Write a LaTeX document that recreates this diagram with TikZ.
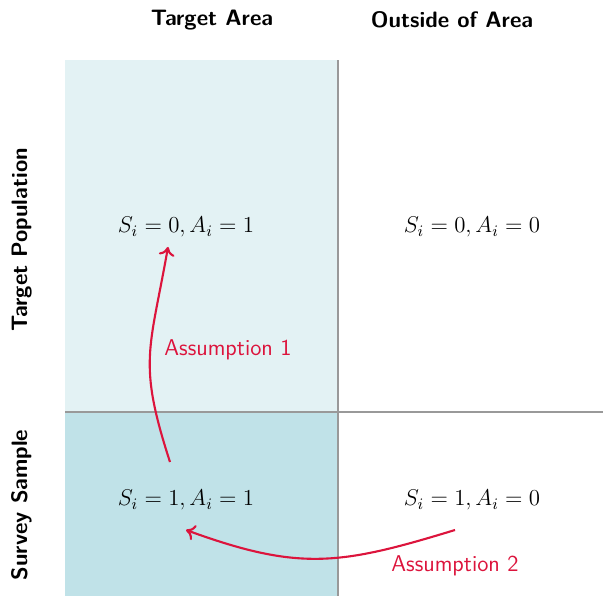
\RequirePackage{fix-cm}
\documentclass[tikz,border=0pt]{standalone}
\usepackage{tikz}
\usetikzlibrary{positioning,arrows.meta,calc}
\usepackage{xcolor}
\definecolor{areacol}{HTML}{E3F2F4}
\definecolor{samplecol}{HTML}{C0E2E8}
\definecolor{assumcol}{HTML}{DC143C}
\tikzset{
  header/.style={font=\fontsize{12.7}{15}\selectfont\bfseries\sffamily},
  assum/.style={font=\fontsize{13}{16}\selectfont\sffamily, text=assumcol},
  assumarrow/.style={-{To[length=5pt,width=9pt]}, line width=1.2pt, draw=assumcol},
  gridline/.style={draw=gray!80, line width=1pt}
}

\begin{document}
\begin{tikzpicture}[every node/.append style={font=\fontsize{13}{16}\selectfont}]
      \useasboundingbox (0,0) rectangle (12.06,11.92);
      % cells
      \fill[areacol]   (1.30,3.68) rectangle (6.76,10.72);
      \fill[samplecol] (1.30,0)    rectangle (6.76,3.68);
      \draw[gridline] (6.76,0) -- (6.76,10.72);
      \draw[gridline] (1.30,3.68) -- (12.06,3.68);
      % headers
      \node[header] (ta) at (4.24,11.52) {Target Area};
      \node[header] (oa) at (9.04,11.52) {Outside of Area};
      \node[header, rotate=90] (tp) at (0.44,7.12) {Target Population};
      \node[header, rotate=90] (ss) at (0.44,1.82) {Survey Sample};
      % cell contents
      \node (s01) at (3.72,7.38) {$S_i = 0, A_i = 1$};
      \node (s00) at (9.44,7.38) {$S_i = 0, A_i = 0$};
      \node (s11) at (3.72,1.92) {$S_i = 1, A_i = 1$};
      \node (s10) at (9.44,1.92) {$S_i = 1, A_i = 0$};
      % assumptions
      \draw[assumarrow] ($(s11)+(-0.32,0.76)$) to[out=108, in=-100, looseness=1.25] ($(s01)+(-0.36,-0.40)$);
      \draw[assumarrow] ($(s10)+(-0.34,-0.60)$) to[out=197, in=-20, looseness=1.15] ($(s11)+(0,-0.60)$);
      \node[assum] (a1) at (4.56,4.92) {Assumption 1};
      \node[assum] (a2) at (9.10,0.60) {Assumption 2};
    \end{tikzpicture}
\end{document}
